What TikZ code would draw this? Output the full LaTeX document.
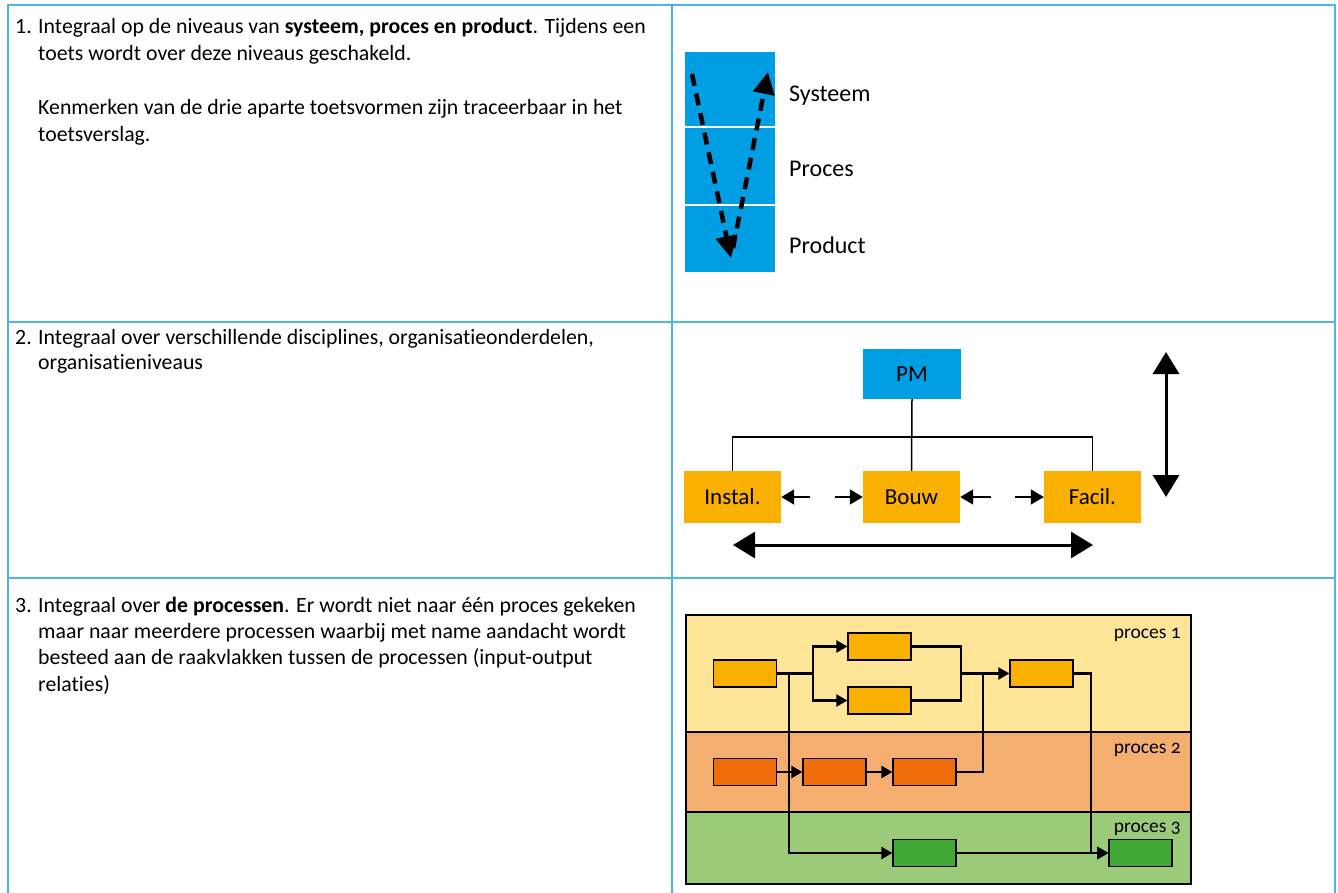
\documentclass[tikz,border=0pt]{standalone}
\usepackage{fontspec}
\setmainfont{Carlito}[Ligatures=NoCommon]
\usetikzlibrary{arrows.meta}
\definecolor{tblline}{HTML}{4DB6E6}
\definecolor{rvblue}{HTML}{009FE3}
\definecolor{rvorange}{HTML}{F9B000}
\definecolor{bandA}{HTML}{FFE597}
\definecolor{bandB}{HTML}{F4AE70}
\definecolor{bandC}{HTML}{9BCB79}
\definecolor{dkorange}{HTML}{EE6C0A}
\definecolor{grn}{HTML}{41A835}
\begin{document}
\begin{tikzpicture}[x=1pt,y=-1pt,
  txt/.style={anchor=base west, inner sep=0, font=\fontsize{21.8}{26}\selectfont},
  lbl/.style={anchor=base west, inner sep=0, font=\fontsize{24}{28}\selectfont},
  plbl/.style={anchor=base east, inner sep=0, font=\fontsize{19.5}{24}\selectfont\addfontfeatures{Numbers=OldStyle}},
  bluebox/.style={fill=rvblue, inner sep=0, minimum width=98, minimum height=50, font=\fontsize{23}{26}\selectfont},
  orgbox/.style={fill=rvorange, inner sep=0, minimum width=97, minimum height=52, font=\fontsize{23}{26}\selectfont},
  pbox/.style={draw=black, line width=1.2, inner sep=0, minimum width=63, minimum height=27},
  conn/.style={line width=2.2, line cap=butt},
  ptip/.style={-{Triangle[length=11,width=12]}},
  thin/.style={line width=1.5},
  smallarr/.style={line width=1.8, -{Triangle[length=13,width=15]}},
  bigarr/.style={line width=3, {Triangle[length=22,width=26]}-{Triangle[length=22,width=26]}},
  dasharr/.style={line width=4.5, dash pattern=on 12 off 8, -{Triangle[length=22,width=21]}}
]
\useasboundingbox (0,0) rectangle (1338,893);
\fill[white] (0,0) rectangle (1338,893);

% table grid
\draw[tblline, line width=2] (8,893) -- (8,5) -- (1335,5) -- (1335,893);
\draw[tblline, line width=2] (672,5) -- (672,893);
\draw[tblline, line width=2] (8,322) -- (1335,322);
\draw[tblline, line width=2] (8,578) -- (1335,578);

% row 1 text
\node[txt] (n1) at (15,34) {1.};
\node[txt] (t11) at (38,34) {Integraal op de niveaus van \textbf{systeem, proces en product}. Tijdens een};
\node[txt] (t12) at (38,61) {toets wordt over deze niveaus geschakeld.};
\node[txt] (t13) at (38,115) {Kenmerken van de drie aparte toetsvormen zijn traceerbaar in het};
\node[txt] (t14) at (38,142) {toetsverslag.};

% row 2 text
\node[txt] (n2) at (15,344) {2.};
\node[txt] (t21) at (38,344) {Integraal over verschillende disciplines, organisatieonderdelen,};
\node[txt] (t22) at (38,369) {organisatieniveaus};

% row 3 text
\node[txt] (n3) at (15,612) {3.};
\node[txt] (t31) at (38,612) {Integraal over \textbf{de processen}. Er wordt niet naar één proces gekeken};
\node[txt] (t32) at (38,638) {maar naar meerdere processen waarbij met name aandacht wordt};
\node[txt] (t33) at (38,664) {besteed aan de raakvlakken tussen de processen (input-output};
\node[txt] (t34) at (38,691) {relaties)};

% ---- diagram 1
\fill[rvblue] (685,52) rectangle (775,272);
\draw[white, line width=2] (685,127) -- (775,127);
\draw[white, line width=2] (685,205) -- (775,205);
\node[lbl] (sys) at (789,102) {Systeem};
\node[lbl] (pro) at (789,177) {Proces};
\node[lbl] (prd) at (789,254) {Product};
\coordinate (d1s) at (692,74);
\coordinate (d1e) at (731,258);
\coordinate (d2s) at (733,248);
\coordinate (d2e) at (768,72);
\draw[dasharr] (d1s) -- (d1e);
\draw[dasharr] (d2s) -- (d2e);

% ---- diagram 2
\node[bluebox] (pm) at (912,374) {PM};
\node[orgbox] (inst) at (732.5,497) {Instal.};
\node[orgbox] (bouw) at (911.5,497) {Bouw};
\node[orgbox] (facil) at (1092.5,497) {Facil.};
\coordinate (hbar) at (912,437);
\draw[thin] (pm.south) -- (bouw.north);
\draw[thin] (inst.north) -- (inst.north |- hbar) -- (facil.north |- hbar) -- (facil.north);
\coordinate (s1) at (810,497);
\coordinate (s2) at (835,497);
\coordinate (s3) at (991,497);
\coordinate (s4) at (1015,497);
\draw[smallarr] (s1) -- (inst.east);
\draw[smallarr] (s2) -- (bouw.west);
\draw[smallarr] (s3) -- (bouw.east);
\draw[smallarr] (s4) -- (facil.west);
\coordinate (hl) at (733,545);
\coordinate (hr) at (1093,545);
\draw[bigarr] (hl) -- (hr);
\coordinate (vt) at (1166,352);
\coordinate (vb) at (1166,497);
\draw[bigarr] (vt) -- (vb);

% ---- diagram 3
\fill[bandA] (686,615) rectangle (1191,732);
\fill[bandB] (686,732) rectangle (1191,812);
\fill[bandC] (686,812) rectangle (1191,884);
\draw[line width=1.2] (686,615) rectangle (1191,884);
\draw[line width=1.2] (686,732) -- (1191,732);
\draw[line width=1.2] (686,812) -- (1191,812);
\node[plbl] (p1) at (1181,638) {proces 1};
\node[plbl] (p2) at (1181,753) {proces 2};
\node[plbl] (p3) at (1181,832) {proces 3};

\node[pbox, fill=rvorange] (A) at (745,673.5) {};
\node[pbox, fill=rvorange] (B) at (879.5,646.5) {};
\node[pbox, fill=rvorange] (C) at (879.5,700.5) {};
\node[pbox, fill=rvorange] (D) at (1041.5,673.5) {};
\node[pbox, fill=dkorange] (E) at (745,772) {};
\node[pbox, fill=dkorange] (F) at (834.5,772) {};
\node[pbox, fill=dkorange] (G) at (924.5,772) {};
\node[pbox, fill=grn] (H) at (924.5,853) {};
\node[pbox, fill=grn] (I) at (1140.5,853) {};

\coordinate (j0) at (789,673.5);
\coordinate (j1) at (813,673.5);
\coordinate (j2) at (961,673.5);
\coordinate (j3) at (983,673.5);
\coordinate (j4) at (1091,673.5);

\draw[conn] (A.east) -- (j1);
\draw[conn, ptip] (j1) |- (B.west);
\draw[conn, ptip] (j1) |- (C.west);
\draw[conn, ptip] (j0) |- (H.west);
\draw[conn] (B.east) -| (j2) |- (C.east);
\draw[conn, ptip] (j2) -- (D.west);
\draw[conn] (G.east) -| (j3);
\draw[conn, ptip] (E.east) -- (F.west);
\draw[conn, ptip] (F.east) -- (G.west);
\draw[conn, ptip] (D.east) -- (j4) |- (I.west);
\draw[conn, ptip] (H.east) -- (I.west);
\end{tikzpicture}
\end{document}
